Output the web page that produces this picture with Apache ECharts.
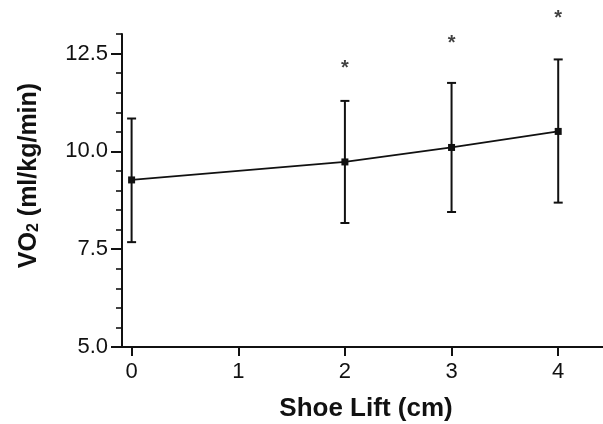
<!DOCTYPE html>
<html>
<head>
<meta charset="utf-8">
<script src="https://cdn.jsdelivr.net/npm/echarts@6/dist/echarts.min.js"></script>
<style>
  html, body { margin: 0; padding: 0; background: #ffffff; }
  #chart { width: 603px; height: 424px; }
</style>
</head>
<body>
<div id="chart"></div>
<script>
// Shoe lift (cm) and oxygen uptake, mean with error range
const shoeLift = [0, 2, 3, 4];
const vo2Mean  = [9.27, 9.73, 10.10, 10.51];
const vo2Upper = [10.84, 11.29, 11.75, 12.35];
const vo2Lower = [7.68, 8.17, 8.45, 8.69];
// significance markers (x, height)
const starX = [2, 3, 4];
const starY = [12.22, 12.86, 13.51];
// axis ticks
const xTicks = [0, 1, 2, 3, 4];
const yMajorTicks = [5, 7.5, 10, 12.5];
const yMinorTicks = [5.5, 6, 6.5, 7, 8, 8.5, 9, 9.5, 10.5, 11, 11.5, 12, 13];

const INK = '#111111';
const FONT = '"Liberation Sans", Arial, sans-serif';

const chart = echarts.init(document.getElementById('chart'), null, { renderer: 'canvas' });

const meanData = shoeLift.map((x, i) => [x, vo2Mean[i]]);
const barData = shoeLift.map((x, i) => [x, vo2Lower[i], vo2Upper[i]]);
const starData = starX.map((x, i) => [x, starY[i]]);

chart.setOption({
  backgroundColor: '#ffffff',
  animation: false,
  grid: { left: 122, right: 0, top: 34, bottom: 77, containLabel: false, outerBoundsMode: 'none' },
  xAxis: {
    type: 'value',
    min: -0.09,
    max: 4.42,
    name: 'Shoe Lift (cm)',
    nameLocation: 'middle',
    nameGap: 49,
    nameTextStyle: { fontFamily: FONT, fontSize: 26, fontWeight: 'bold', color: INK, padding: [0, 0, 0, 7] },
    axisLine: { show: true, onZero: false, lineStyle: { color: INK, width: 2 } },
    axisTick: { show: true, length: 9, lineStyle: { color: INK, width: 2 }, customValues: xTicks },
    axisLabel: { fontFamily: FONT, fontSize: 22, color: INK, margin: 14, customValues: xTicks },
    splitLine: { show: false }
  },
  yAxis: [
    {
      type: 'value',
      min: 5,
      max: 13,
      name: 'VO{s|2} (ml/kg/min)',
      nameLocation: 'middle',
      nameGap: 80,
      nameTextStyle: {
        fontFamily: FONT, fontSize: 25, fontWeight: 'bold', color: INK,
        padding: [0, 0, 0, 30],
        rich: {
          s: { fontFamily: FONT, fontSize: 16, fontWeight: 'bold', color: INK, verticalAlign: 'bottom' }
        }
      },
      axisLine: { show: true, onZero: false, lineStyle: { color: INK, width: 2 } },
      axisTick: { show: true, length: 11, lineStyle: { color: INK, width: 2 }, customValues: yMajorTicks },
      axisLabel: {
        fontFamily: FONT, fontSize: 22, color: INK, margin: 14,
        customValues: yMajorTicks,
        formatter: v => v.toFixed(1)
      },
      splitLine: { show: false }
    },
    {
      // minor ticks every 0.5
      type: 'value',
      min: 5,
      max: 13,
      position: 'left',
      offset: 0,
      axisLine: { show: false, onZero: false },
      axisTick: { show: true, length: 6, lineStyle: { color: INK, width: 1.6 }, customValues: yMinorTicks },
      axisLabel: { show: false },
      splitLine: { show: false }
    }
  ],
  series: [
    {
      type: 'custom',
      name: 'range',
      z: 3,
      renderItem: function (params, api) {
        const x = api.value(0);
        const lo = api.coord([x, api.value(1)]);
        const hi = api.coord([x, api.value(2)]);
        const half = 4.5;
        const style = { stroke: INK, lineWidth: 2 };
        return {
          type: 'group',
          children: [
            { type: 'line', shape: { x1: lo[0], y1: lo[1], x2: hi[0], y2: hi[1] }, style },
            { type: 'line', shape: { x1: hi[0] - half, y1: hi[1], x2: hi[0] + half, y2: hi[1] }, style },
            { type: 'line', shape: { x1: lo[0] - half, y1: lo[1], x2: lo[0] + half, y2: lo[1] }, style }
          ]
        };
      },
      encode: { x: 0, y: [1, 2] },
      data: barData
    },
    {
      type: 'line',
      name: 'mean',
      z: 4,
      data: meanData,
      symbol: 'rect',
      symbolSize: 7,
      showSymbol: true,
      itemStyle: { color: INK },
      lineStyle: { color: INK, width: 1.8 }
    },
    {
      type: 'scatter',
      name: 'significance',
      z: 5,
      clip: false,
      data: starData,
      symbolSize: 0,
      itemStyle: { color: 'transparent' },
      label: {
        show: true,
        position: 'inside',
        formatter: '*',
        fontFamily: FONT,
        fontSize: 20,
        fontWeight: 'bold',
        color: INK,
        offset: [0, 4]
      }
    }
  ]
});
</script>
</body>
</html>
